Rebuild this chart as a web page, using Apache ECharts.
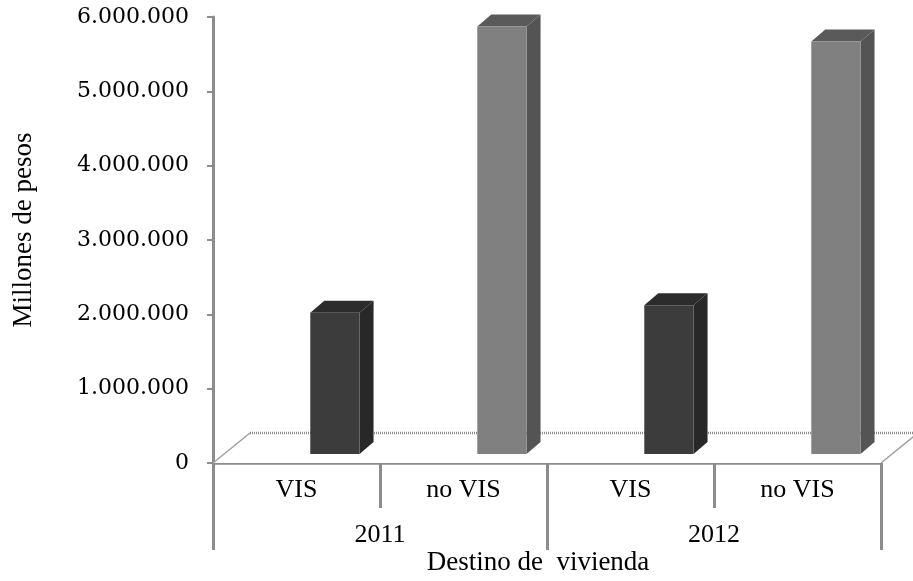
<!DOCTYPE html>
<html>
<head>
<meta charset="utf-8">
<script src="https://cdn.jsdelivr.net/npm/echarts@6/dist/echarts.min.js"></script>
<style>
html,body{margin:0;padding:0;background:#fff;overflow:hidden;}
#chart{width:913px;height:581px;}
</style>
</head>
<body>
<div id="chart"></div>
<script>
// Data
const categories = ['VIS', 'no VIS', 'VIS', 'no VIS'];
const years = ['2011', '2012'];
const values = [1900000, 5750000, 2000000, 5550000];
const yMin = 0, yMax = 6000000, yStep = 1000000;
const xTitle = 'Destino de  vivienda';
const yTitle = 'Millones de pesos';

const serif = "'Liberation Serif', 'Times New Roman', serif";
const numFont = "'DejaVu Serif', serif";

const chart = echarts.init(document.getElementById('chart'), null, {renderer: 'canvas', width: 913, height: 581});

function fmt(v) {
  return String(v).replace(/\B(?=(\d{3})+(?!\d))/g, '.');
}

const DX = 14, DY = 12, LIFT = 9;

function renderBar(params, api) {
  const idx = api.value(0);
  const v = api.value(1);
  const band = api.size([1, 0])[0];
  const base = api.coord([idx, 0]);
  const top = api.coord([idx, v]);
  const cx = base[0] + band * 0.23;
  const w = band * 0.295;
  const x0 = cx - w / 2, x1 = cx + w / 2;
  const yb = base[1] - LIFT, yt = top[1] - LIFT;
  const vis = idx % 2 === 0;
  const cFront = vis ? '#3c3c3c' : '#808080';
  const cSide = vis ? '#282828' : '#545454';
  const cTop = vis ? '#2c2c2c' : '#5a5a5a';
  return {
    type: 'group',
    children: [
      {type: 'polygon', shape: {points: [[x1, yt], [x1 + DX, yt - DY], [x1 + DX, yb - DY], [x1, yb]]}, style: {fill: cSide}},
      {type: 'polygon', shape: {points: [[x0, yt], [x0 + DX, yt - DY], [x1 + DX, yt - DY], [x1, yt]]}, style: {fill: cTop}},
      {type: 'rect', shape: {x: x0, y: yt, width: w, height: yb - yt}, style: {fill: cFront}}
    ]
  };
}

function renderFloor(params, api) {
  const cs = params.coordSys;
  const left = cs.x, right = cs.x + cs.width, y0 = cs.y + cs.height;
  const fdx = 37, fdy = 30;
  return {
    type: 'group',
    children: [
      {type: 'polygon', shape: {points: [[left, y0], [left + fdx, y0 - fdy], [right + fdx, y0 - fdy], [right, y0]]},
        style: {fill: '#ffffff', stroke: null}},
      {type: 'line', shape: {x1: left + fdx, y1: y0 - fdy, x2: right + fdx, y2: y0 - fdy},
        style: {stroke: '#8c8c8c', lineWidth: 2.5, lineDash: [1, 1]}},
      {type: 'line', shape: {x1: left, y1: y0, x2: left + fdx, y2: y0 - fdy},
        style: {stroke: '#a0a0a0', lineWidth: 1.5}},
      {type: 'line', shape: {x1: right, y1: y0, x2: right + fdx, y2: y0 - fdy},
        style: {stroke: '#a0a0a0', lineWidth: 1.5}}
    ]
  };
}

const option = {
  backgroundColor: '#ffffff',
  animation: false,
  grid: {left: 213, right: 32, top: 17, bottom: 113, containLabel: false},
  xAxis: [
    {
      type: 'category',
      data: categories,
      position: 'bottom',
      boundaryGap: true,
      axisLine: {show: true, lineStyle: {color: '#8c8c8c', width: 2.5, type: [1, 1]}},
      axisTick: {show: true, length: 45, lineStyle: {color: '#8c8c8c', width: 3}},
      axisLabel: {fontFamily: serif, fontSize: 26, color: '#000', margin: 14},
      name: xTitle,
      nameLocation: 'middle',
      nameGap: 86,
      nameTextStyle: {fontFamily: serif, fontSize: 27, color: '#000', padding: [0, 18, 0, 0]},
      splitLine: {show: false}
    },
    {
      type: 'category',
      data: years,
      position: 'bottom',
      boundaryGap: true,
      axisLine: {show: false},
      axisTick: {show: true, length: 87, lineStyle: {color: '#8c8c8c', width: 3}},
      axisLabel: {fontFamily: serif, fontSize: 26, color: '#000', margin: 59},
      splitLine: {show: false}
    }
  ],
  yAxis: {
    type: 'value',
    min: yMin,
    max: yMax,
    interval: yStep,
    axisLine: {show: true, lineStyle: {color: '#8c8c8c', width: 3}},
    axisTick: {show: true, length: 6, lineStyle: {color: '#8c8c8c', width: 2}},
    axisLabel: {fontFamily: numFont, fontSize: 22, color: '#000', margin: 24, formatter: fmt},
    splitLine: {show: false},
    name: yTitle,
    nameLocation: 'middle',
    nameGap: 176,
    nameRotate: 90,
    nameTextStyle: {fontFamily: serif, fontSize: 27, color: '#000', padding: [0, 0, 0, 20]}
  },
  series: [
    {
      type: 'custom',
      name: 'floor',
      xAxisIndex: 0,
      clip: false,
      silent: true,
      z: 1,
      renderItem: renderFloor,
      data: [[0, 0]]
    },
    {
      type: 'custom',
      name: 'valores',
      xAxisIndex: 0,
      clip: false,
      z: 2,
      renderItem: renderBar,
      encode: {x: 0, y: 1},
      data: values.map((v, i) => [i, v])
    }
  ]
};

chart.setOption(option);
</script>
</body>
</html>
